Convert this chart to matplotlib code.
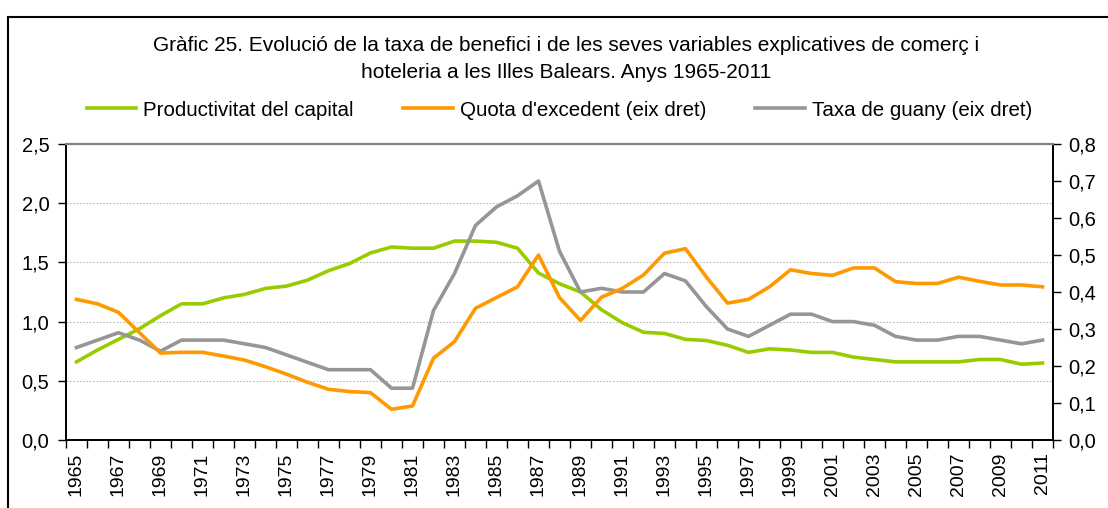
import numpy as np
import matplotlib
matplotlib.use("Agg")
import matplotlib.pyplot as plt
from matplotlib.ticker import FuncFormatter, MultipleLocator
from matplotlib.patches import Rectangle

plt.rcParams["font.family"] = ["Liberation Sans", "DejaVu Sans"]

# Data
years = list(range(1965, 2012))

productivitat = [0.66, 0.76, 0.85, 0.94, 1.05, 1.15, 1.15, 1.20, 1.23, 1.28,
                 1.30, 1.35, 1.43, 1.49, 1.58, 1.63, 1.62, 1.62, 1.68, 1.68,
                 1.67, 1.62, 1.41, 1.32, 1.25, 1.10, 0.99, 0.91, 0.90, 0.85,
                 0.84, 0.80, 0.74, 0.77, 0.76, 0.74, 0.74, 0.70, 0.68, 0.66,
                 0.66, 0.66, 0.66, 0.68, 0.68, 0.64, 0.65]

quota = [0.380, 0.368, 0.345, 0.290, 0.235, 0.237, 0.237, 0.227, 0.216, 0.198,
         0.178, 0.156, 0.137, 0.131, 0.128, 0.083, 0.092, 0.221, 0.266, 0.356,
         0.385, 0.414, 0.500, 0.385, 0.323, 0.386, 0.410, 0.446, 0.505, 0.517,
         0.440, 0.370, 0.380, 0.414, 0.460, 0.450, 0.445, 0.465, 0.465, 0.428,
         0.423, 0.423, 0.440, 0.429, 0.419, 0.419, 0.414]

taxa = [0.25, 0.27, 0.29, 0.27, 0.24, 0.27, 0.27, 0.27, 0.26, 0.25,
        0.23, 0.21, 0.19, 0.19, 0.19, 0.14, 0.14, 0.35, 0.45, 0.58,
        0.63, 0.66, 0.70, 0.51, 0.40, 0.41, 0.40, 0.40, 0.45, 0.43,
        0.36, 0.30, 0.28, 0.31, 0.34, 0.34, 0.32, 0.32, 0.31, 0.28,
        0.27, 0.27, 0.28, 0.28, 0.27, 0.26, 0.27]

labels = ["Productivitat del capital", "Quota d'excedent (eix dret)",
          "Taxa de guany (eix dret)"]
title = ("Gràfic 25. Evolució de la taxa de benefici i de les seves variables explicatives de comerç i\n"
         "hoteleria a les Illes Balears. Anys 1965-2011")

GREEN = "#99CC00"
ORANGE = "#FF9900"
GREY = "#969696"

fig = plt.figure(figsize=(11.08, 5.08), dpi=100)
ax = fig.add_axes([66 / 1108, 1 - 440 / 508, 987 / 1108, 296 / 508])
ax2 = ax.twinx()

x = np.arange(len(years))

l1, = ax.plot(x, productivitat, color=GREEN, lw=2.6, solid_joinstyle="round", zorder=3)
l2, = ax2.plot(x, quota, color=ORANGE, lw=2.6, solid_joinstyle="round", zorder=3)
l3, = ax2.plot(x, taxa, color=GREY, lw=2.6, solid_joinstyle="round", zorder=2)

# axes scales
ax.set_ylim(0, 2.5)
ax.yaxis.set_major_locator(MultipleLocator(0.5))
ax2.set_ylim(0, 0.8)
ax2.yaxis.set_major_locator(MultipleLocator(0.1))
comma = FuncFormatter(lambda v, p: f"{v:.1f}".replace(".", ","))
ax.yaxis.set_major_formatter(comma)
ax2.yaxis.set_major_formatter(comma)

ax.set_xlim(-0.5, len(years) - 0.5)
ax.set_xticks(x[::2])
ax.set_xticklabels([str(y) for y in years[::2]], rotation=90, fontsize=14)
ax.set_xticks(np.arange(-0.5, len(years)), minor=True)
ax.tick_params(axis="x", which="major", length=0, pad=9)
ax.tick_params(axis="x", which="minor", length=6, width=1, color="black")

ax.tick_params(axis="y", length=6, width=1, labelsize=14.5, pad=6)
ax2.tick_params(axis="y", length=6, width=1, labelsize=14.5, pad=5)

ax.grid(axis="y", color="#BDBDBD", linestyle=(0, (1.5, 1.5)), linewidth=0.8)
ax.set_axisbelow(True)

for a in (ax, ax2):
    for s in ("left", "right", "bottom"):
        a.spines[s].set_color("black")
        a.spines[s].set_linewidth(1.3)
    a.spines["top"].set_color("#808080")
    a.spines["top"].set_linewidth(1.5)

# title and legend
fig.text(0.511, 1 - 59 / 508, title, ha="center", va="center", fontsize=15,
         linespacing=1.55)
fig.legend([l1, l2, l3], labels, loc="center", bbox_to_anchor=(0.505, 1 - 110 / 508),
           ncol=3, frameon=False, fontsize=14.8, handlelength=2.4, handletextpad=0.35,
           columnspacing=2.4)

# outer frame
fig.patches.append(Rectangle((8 / 1108, -0.05), 1.2, 1 - 17 / 508 + 0.05,
                             transform=fig.transFigure, fill=False,
                             edgecolor="black", linewidth=1.5))

fig.savefig("out.png", dpi=100)
